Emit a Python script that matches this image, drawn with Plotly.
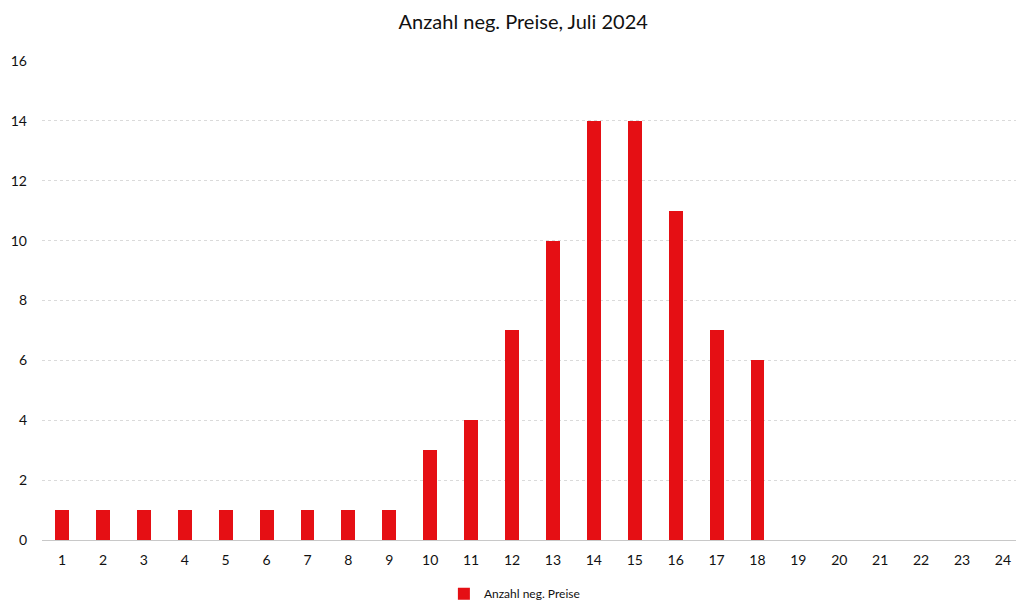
import plotly.graph_objects as go

hours = list(range(1, 25))
counts = [1, 1, 1, 1, 1, 1, 1, 1, 1, 3, 4, 7, 10, 14, 14, 11, 7, 6, 0, 0, 0, 0, 0, 0]
series_name = "Anzahl neg. Preise"
title = "Anzahl neg. Preise, Juli 2024"

fig = go.Figure()
fig.add_trace(go.Bar(
    x=hours, y=counts, name=series_name,
    marker=dict(color="#e50f14", line=dict(width=0)),
    width=0.34, showlegend=True,
))

fig.update_layout(
    width=1016, height=604,
    paper_bgcolor="white", plot_bgcolor="white",
    margin=dict(l=42, r=0, t=61, b=64, autoexpand=False),
    title=dict(text=title, x=0.515, xanchor="center", y=1 - 22 / 604, yanchor="middle",
               font=dict(family="Lato, Open Sans, sans-serif", size=20, color="#111")),
    font=dict(family="Lato, Open Sans, sans-serif", color="#222"),
    showlegend=True,
    legend=dict(orientation="h", x=0.485, xanchor="center", y=-0.112, yanchor="middle",
                font=dict(size=12, color="#111"), itemwidth=30),
    bargap=0,
)
fig.update_xaxes(range=[0.51, 24.32], tickvals=hours, ticktext=[str(h) for h in hours],
                 showgrid=False, zeroline=False, showline=False, ticks="", automargin=False,
                 tickfont=dict(size=14, color="#111"), ticklabelstandoff=10)
fig.update_yaxes(range=[0, 16], dtick=2, showgrid=True, gridcolor="#dadada",
                 griddash="dot", gridwidth=1, zeroline=True, zerolinecolor="#c8c8c8",
                 zerolinewidth=1, showline=False, ticks="", automargin=False,
                 tickfont=dict(size=14, color="#111"), ticklabelstandoff=14)

fig.write_html("out.html", config={"displayModeBar": False},
               post_script="document.body.style.margin='0';document.body.style.overflow='hidden';")
